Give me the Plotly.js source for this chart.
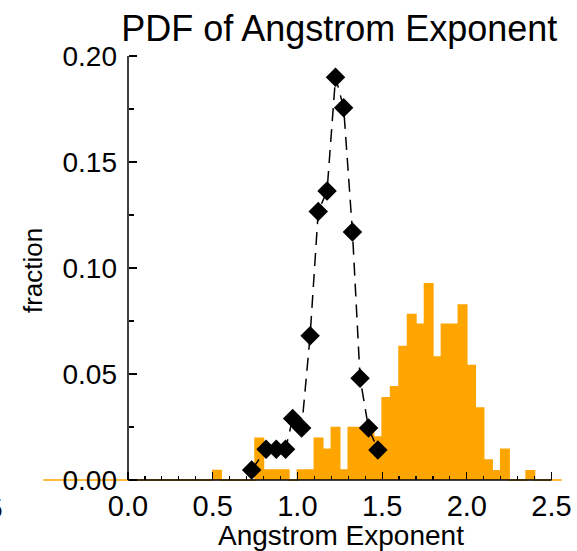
<!DOCTYPE html>
<html>
<head>
<meta charset="utf-8">
<script src="https://cdn.plot.ly/plotly-3.0.1.min.js"></script>
<style>html,body{margin:0;padding:0;background:#fff;}</style>
</head>
<body>
<div id="chart" style="width:577px;height:551px;"></div>
<script>
// Orange histogram: left bin edges and fractions (step outline, zero bins extend the baseline)
const histX = [-0.50, 0.50, 0.55, 0.60, 0.65, 0.70, 0.75, 0.80, 0.85, 0.90, 0.95, 1.00, 1.05, 1.10, 1.15, 1.20,
               1.25, 1.30, 1.35, 1.40, 1.45, 1.50, 1.55, 1.60, 1.65, 1.70, 1.75, 1.80, 1.85, 1.90, 1.95,
               2.00, 2.05, 2.10, 2.15, 2.20, 2.25, 2.30, 2.35, 2.40, 2.56];
const histY = [0, 0.0045, 0, 0, 0, 0, 0.0197, 0.0047, 0.0047, 0.0047, 0, 0.0047, 0.0047, 0.0197, 0.0145, 0.0247,
               0.0047, 0.0247, 0.0247, 0.0247, 0.0203, 0.0388, 0.0440, 0.0630, 0.0780, 0.0735, 0.0925, 0.0580, 0.0734, 0.0734, 0.0825,
               0.0540, 0.0340, 0.0094, 0.0044, 0.0145, 0, 0, 0.0044, 0, 0];

// Black diamonds (dashed line)
const ptsX = [0.73, 0.815, 0.875, 0.93, 0.972, 1.025, 1.075, 1.123, 1.175, 1.225, 1.273, 1.325, 1.37, 1.42, 1.475];
const ptsY = [0.0047, 0.0145, 0.0145, 0.0145, 0.029, 0.0245, 0.068, 0.1266, 0.1363, 0.190, 0.1756, 0.117, 0.048, 0.0245, 0.0142];

// Ticks
const xTickVals = [0, 0.5, 1.0, 1.5, 2.0, 2.5];
const xTickText = ['0.0', '0.5', '1.0', '1.5', '2.0', '2.5'];
const xMinorVals = [0.1,0.2,0.3,0.4,0.6,0.7,0.8,0.9,1.1,1.2,1.3,1.4,1.6,1.7,1.8,1.9,2.1,2.2,2.3,2.4];
const yTickVals = [0, 0.05, 0.10, 0.15, 0.20];
const yTickText = ['0.00', '0.05', '0.10', '0.15', '0.20'];
const yMinorVals = [0.025, 0.075, 0.125, 0.175];

const FONT = 'Liberation Sans, Arial, Helvetica, sans-serif';

const traces = [
  {
    type: 'scatter', mode: 'lines', x: histX, y: histY,
    line: {shape: 'hv', color: '#FFA500', width: 1.5},
    fill: 'tozeroy', fillcolor: '#FFA500', hoverinfo: 'skip'
  },
  {
    type: 'scatter', mode: 'lines+markers', x: ptsX, y: ptsY,
    line: {color: 'black', width: 1.5, dash: '13px,8px'},
    marker: {symbol: 'diamond', size: 15, color: 'black'}
  }
];

const layout = {
  width: 577, height: 551,
  margin: {l: 30, r: 5, t: 50, b: 66},
  paper_bgcolor: 'white', plot_bgcolor: 'white',
  showlegend: false,
  font: {family: FONT, color: 'black'},
  title: {text: 'PDF of Angstrom Exponent', x: 0.588, xanchor: 'center', y: 0.948, yanchor: 'middle',
          font: {family: FONT, size: 36, color: 'black'}},
  xaxis: {
    range: [-0.5785, 2.621], anchor: 'free', position: 0.0115,
    showgrid: false, zeroline: false, showline: false,
    tickmode: 'array', tickvals: xTickVals, ticktext: xTickText,
    ticks: 'inside', ticklen: 8, tickwidth: 1.2, tickcolor: 'black',
    ticklabelstandoff: 6,
    minor: {tickmode: 'array', tickvals: xMinorVals, ticks: 'inside', ticklen: 4, tickwidth: 1.2, tickcolor: 'black'},
    tickfont: {family: FONT, size: 29, color: 'black'}
  },
  yaxis: {
    range: [-0.00236, 0.2028], anchor: 'free', position: 0.1808,
    showgrid: false, zeroline: false, showline: false,
    tickmode: 'array', tickvals: yTickVals, ticktext: yTickText,
    ticks: 'inside', ticklen: 8, tickwidth: 1.2, tickcolor: 'black',
    ticklabelstandoff: 11,
    minor: {tickmode: 'array', tickvals: yMinorVals, ticks: 'inside', ticklen: 5, tickwidth: 1.2, tickcolor: 'black'},
    tickfont: {family: FONT, size: 28, color: 'black'}
  },
  shapes: [
    {type: 'line', xref: 'x', yref: 'y', x0: 0, x1: 2.5, y0: 0, y1: 0, line: {color: 'black', width: 1.5}, layer: 'above'},
    {type: 'line', xref: 'x', yref: 'y', x0: 0, x1: 0, y0: 0, y1: 0.2, line: {color: 'black', width: 1.5}, layer: 'above'}
  ],
  annotations: [
    {text: 'fraction', xref: 'paper', yref: 'paper', x: 0.0055, y: 0.494, xanchor: 'center', yanchor: 'middle',
     textangle: -90, showarrow: false, font: {family: FONT, size: 26, color: 'black'}},
    {text: 'Angstrom Exponent', xref: 'paper', yref: 'paper', x: 0.574, y: -0.117, xanchor: 'center', yanchor: 'middle',
     showarrow: false, font: {family: FONT, size: 28, color: 'black'}},
    {text: '5', xref: 'paper', yref: 'paper', x: -0.046, y: -0.0529, xanchor: 'right', yanchor: 'middle',
     showarrow: false, font: {family: FONT, size: 28, color: 'black'}}
  ]
};

Plotly.newPlot('chart', traces, layout, {displayModeBar: false, staticPlot: true});
</script>
</body>
</html>
